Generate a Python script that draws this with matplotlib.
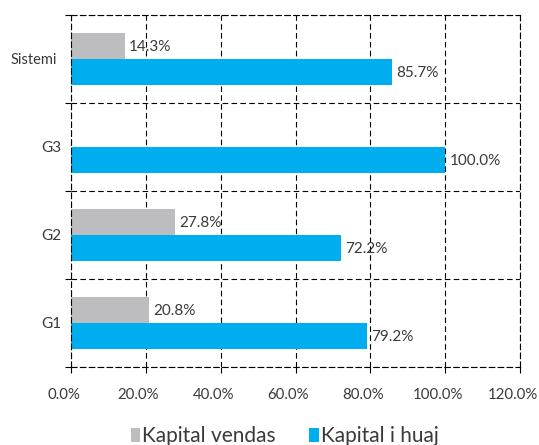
import matplotlib
matplotlib.use("Agg")
import matplotlib.pyplot as plt
from matplotlib.patches import Patch
from matplotlib.ticker import FixedLocator, FuncFormatter
from matplotlib.transforms import ScaledTranslation

plt.rcParams['font.family'] = ['Lato', 'DejaVu Sans']

categories = ["G1", "G2", "G3", "Sistemi"]
kapital_vendas = [20.8, 27.8, 0.0, 14.3]
kapital_huaj = [79.2, 72.2, 100.0, 85.7]
series_names = ["Kapital vendas", "Kapital i huaj"]
x_ticks = [0, 20, 40, 60, 80, 100, 120]

grey = "#BDBDBF"
blue = "#00AEEF"
text_col = "#3a3a3a"

fig = plt.figure(figsize=(5.39, 4.45), dpi=100)
ax = fig.add_axes([71 / 539, 1 - 367 / 445, 449 / 539, 352 / 445])

pos = list(range(len(categories)))
h = 0.295
bars_v = ax.barh([p + h / 2 for p in pos], kapital_vendas, height=h, color=grey, zorder=2)
bars_h = ax.barh([p - h / 2 for p in pos], kapital_huaj, height=h, color=blue, zorder=2)

for bars, vals in ((bars_v, kapital_vendas), (bars_h, kapital_huaj)):
    for b, v in zip(bars, vals):
        if v <= 0:
            continue
        ax.annotate(f"{v:.1f}%", (v, b.get_y() + b.get_height() / 2),
                    xytext=(3, -1), textcoords="offset points",
                    ha="left", va="center", fontsize=11, color=text_col, zorder=3)

ax.set_xlim(0, 120)
ax.set_ylim(-0.5, len(categories) - 0.5)

ax.xaxis.set_major_locator(FixedLocator(x_ticks))
ax.xaxis.set_major_formatter(FuncFormatter(lambda x, _: f"{x:.1f}%"))
ax.set_yticks(pos)
ax.set_yticklabels(categories)
ax.yaxis.set_minor_locator(FixedLocator([p - 0.5 for p in range(len(categories) + 1)]))

dash = (0, (5, 3))
ax.grid(axis="x", which="major", color="black", linestyle=dash, linewidth=0.8, zorder=1)
ax.grid(axis="y", which="minor", color="black", linestyle=dash, linewidth=0.8, zorder=1)
for s in ax.spines.values():
    s.set_linestyle(dash)
    s.set_linewidth(0.8)
    s.set_color("black")

ax.tick_params(axis="x", which="major", length=4, width=0.8, pad=11,
               labelsize=10.8, labelcolor=text_col)
ax.tick_params(axis="y", which="major", length=0, pad=7,
               labelsize=11, labelcolor=text_col)
ax.tick_params(axis="y", which="minor", length=4, width=0.8)

# x labels sit a little left of their ticks
shift = ScaledTranslation(-7.5 / 100, 0, fig.dpi_scale_trans)
for lbl in ax.get_xticklabels():
    lbl.set_transform(lbl.get_transform() + shift)

for lbl in ax.get_yticklabels():
    if lbl.get_text() == "Sistemi":
        lbl.set_fontsize(10.5)
        lbl.set_transform(lbl.get_transform() + ScaledTranslation(-4 / 100, 0, fig.dpi_scale_trans))

handles = [Patch(facecolor=grey, edgecolor="none"), Patch(facecolor=blue, edgecolor="none")]
fig.legend(handles, series_names, loc="center", bbox_to_anchor=(0.528, 0.02),
           ncol=2, frameon=False, fontsize=15, handlelength=0.45, handleheight=0.7,
           handletextpad=0.1, columnspacing=1.6, labelcolor=text_col)

fig.savefig("out.png", dpi=100)
